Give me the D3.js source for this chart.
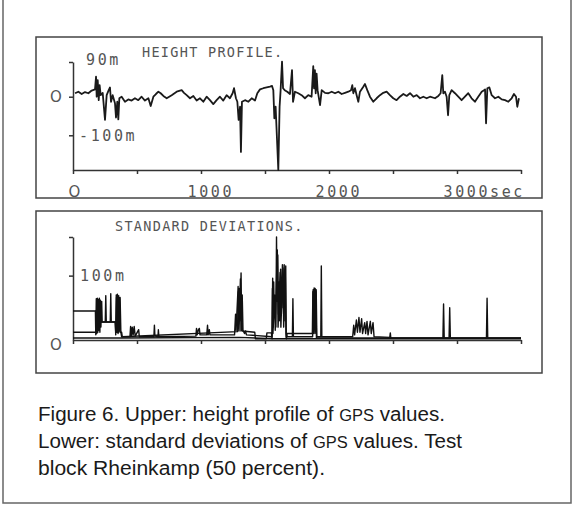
<!DOCTYPE html>
<html>
<head>
<meta charset="utf-8">
<script src="https://cdn.jsdelivr.net/npm/d3@7"></script>
<style>
body { margin: 0; background: #fff; }
svg { display: block; }
.plot text { font-family: "DejaVu Sans Mono", monospace; fill: #555; }
</style>
</head>
<body>
<svg id="fig" width="584" height="505"></svg>
<script>
// [seconds, metres]
const heightProfile = [
  [16,9],[42,13],[68,7],[94,12],[120,9],[146,16],[172,19],[180,52],[185,0],[193,43],[201,-9],[208,30],
  [216,4],[232,10],[250,-60],[263,4],[279,17],[289,24],[297,-13],[310,4],[328,-17],[336,-54],[346,-13],
  [354,-59],[362,-4],[380,0],[406,-13],[432,-7],[458,-10],[484,-4],[510,-9],[536,0],[562,-10],[589,-4],
  [607,-24],[628,0],[648,7],[667,13],[685,9],[706,2],[732,-4],[771,4],[810,13],[849,17],[867,10],[888,4],
  [914,-4],[940,2],[966,-10],[992,-4],[1018,-13],[1044,0],[1070,-9],[1096,-19],[1122,-9],[1148,0],
  [1174,-10],[1200,4],[1226,-4],[1247,9],[1258,22],[1273,-4],[1284,-13],[1294,-60],[1305,-26],[1312,-143],
  [1320,-13],[1344,-9],[1370,-13],[1396,-4],[1422,-10],[1440,9],[1461,19],[1487,22],[1513,24],[1539,26],
  [1555,28],[1565,17],[1573,-56],[1583,-26],[1594,-112],[1604,-190],[1614,-26],[1622,17],[1633,91],
  [1641,22],[1654,17],[1674,13],[1695,7],[1711,69],[1719,-13],[1734,13],[1760,9],[1786,4],[1812,-4],
  [1838,4],[1864,0],[1877,79],[1883,22],[1890,69],[1896,9],[1903,60],[1911,17],[1930,-22],[1943,17],
  [1969,10],[1995,9],[2021,13],[2047,9],[2073,13],[2099,7],[2125,10],[2151,13],[2172,17],[2182,30],
  [2190,9],[2203,22],[2216,4],[2229,-13],[2242,13],[2268,26],[2281,33],[2299,17],[2320,0],[2346,-13],
  [2372,-4],[2398,4],[2424,10],[2450,13],[2476,4],[2502,-4],[2528,-9],[2554,0],[2581,7],[2607,2],
  [2633,9],[2659,0],[2685,4],[2711,-4],[2737,0],[2763,-4],[2789,0],[2828,-4],[2854,2],[2872,9],
  [2885,56],[2893,9],[2906,13],[2919,0],[2930,-48],[2940,4],[2958,17],[2984,9],[3010,0],[3036,-9],
  [3062,0],[3088,9],[3114,-4],[3140,-13],[3166,0],[3193,13],[3211,17],[3219,19],[3227,-69],[3237,22],
  [3253,24],[3271,4],[3297,-4],[3323,0],[3349,-7],[3375,-9],[3401,-13],[3427,-4],[3445,7],[3461,0],
  [3471,-26],[3484,-4]
];

// standard deviations, three traces [seconds, metres]
const sigmaA = [
  [0,45],[175,45],[178,8],[182,64],[186,10],[190,65],[194,12],[198,63],[202,15],[206,65],[210,12],
  [214,62],[218,20],[224,60],[228,28],[252,28],[256,69],[260,28],[291,28],[295,72],[299,28],[330,28],
  [334,8],[338,70],[342,12],[347,71],[352,10],[357,69],[362,14],[368,66],[374,12],[380,5],[445,5],
  [450,21],[456,6],[463,20],[470,8],[478,21],[486,6],[513,16],[518,5],[632,5],[636,23],[640,6],
  [664,5],[667,16],[671,5],[960,6],[965,18],[970,8],[980,16],[987,18],[992,8],[1045,8],[1051,23],
  [1056,8],[1065,16],[1070,8],[1262,8],[1270,40],[1274,15],[1290,83],[1294,25],[1300,80],[1305,30],
  [1313,104],[1317,30],[1322,70],[1328,15],[1340,10],[1348,14],[1355,8],[1555,5],[1560,96],[1564,20],
  [1568,90],[1572,40],[1580,60],[1585,20],[1590,160],[1594,60],[1600,132],[1605,40],[1610,90],
  [1615,30],[1622,110],[1628,40],[1636,117],[1642,50],[1650,117],[1656,30],[1662,115],[1666,10],
  [1672,5],[1714,5],[1718,64],[1722,5],[1872,5],[1876,78],[1880,20],[1884,81],[1888,25],[1892,80],
  [1896,20],[1900,78],[1905,5],[1936,5],[1940,115],[1944,5],[2185,5],[2193,23],[2200,8],[2214,31],
  [2222,12],[2234,35],[2242,12],[2255,33],[2262,10],[2279,27],[2286,10],[2297,29],[2305,8],[2323,29],
  [2330,10],[2344,27],[2352,5],[2475,4],[2479,11],[2483,3],[2890,3],[2895,56],[2900,3],[2938,3],
  [2943,50],[2948,3],[3230,3],[3235,65],[3240,3],[3500,3]
];
const sigmaB = [
  [0,12],[178,12],[182,40],[186,28],[192,60],[196,28],[204,62],[208,28],[216,58],[220,28],[330,28],
  [334,12],[340,66],[344,12],[350,68],[355,12],[364,64],[368,12],[380,12],[385,5],[1285,13],[1292,75],
  [1297,14],[1308,95],[1312,14],[1318,60],[1323,14],[1420,12],[1425,2],[1510,2],[1515,11],[1550,11],
  [1555,2],[1558,80],[1562,10],[1576,70],[1580,15],[1596,140],[1602,20],[1618,105],[1624,20],[1640,112],
  [1646,20],[1658,110],[1664,5],[1668,2],[1672,10],[1870,10],[1874,75],[1878,10],[1886,78],[1890,10],
  [1898,75],[1902,3],[3500,3]
];
const sigmaC = [[0,3],[380,3],[1300,4],[1560,2],[3500,2]];

const timeTicks = [0, 500, 1000, 1500, 2000, 2500, 3000, 3500];
const timeLabels = {0: "O", 1000: "1000", 2000: "2000", 3000: "3000sec"};
const captionLines = [
  ["Figure 6. Upper: height profile of ", "GPS", " values."],
  ["Lower: standard deviations of ", "GPS", " values. Test"],
  ["block Rheinkamp (50 percent)."]
];
const captionWidths = [407, 424, 287];

const svg = d3.select("#fig");

// scanned page frame
svg.append("path")
  .attr("d", "M3,0V503H571V0")
  .attr("fill", "none").attr("stroke", "#666").attr("stroke-width", 1.5);

// panel frames
svg.append("rect").attr("x", 36).attr("y", 37).attr("width", 506).attr("height", 161)
  .attr("fill", "none").attr("stroke", "#444").attr("stroke-width", 1.5);
svg.append("rect").attr("x", 36).attr("y", 211).attr("width", 506).attr("height", 162)
  .attr("fill", "none").attr("stroke", "#444").attr("stroke-width", 1.5);

const x = d3.scaleLinear().domain([0, 3500]).range([73, 521]);
const yH = d3.scaleLinear().domain([-190, 90]).range([170, 62]);
const yS = d3.scaleLinear().domain([0, 160]).range([340, 237]);

function style_axis(g) {
  g.selectAll("path, line").attr("stroke", "#333").attr("stroke-width", 1.5);
  g.attr("font-family", null).attr("font-size", null);
}

// ---- upper panel: height profile
const up = svg.append("g").attr("class", "plot");

up.append("g")
  .attr("transform", "translate(0,170)")
  .call(d3.axisBottom(x).tickValues(timeTicks).tickSize(4).tickSizeOuter(0)
    .tickFormat(d => timeLabels[d] || ""))
  .call(style_axis)
  .call(g => g.selectAll("text")
    .attr("y", 27).attr("dy", null)
    .attr("text-anchor", d => d === 0 ? "middle" : "start")
    .attr("x", d => d === 0 ? 1 : -14)
    .style("font-family", d => d === 0 ? "DejaVu Sans" : null)
    .attr("font-size", 15).attr("letter-spacing", d => d === 0 ? 0 : 2.6));

up.append("g")
  .attr("transform", "translate(73,0)")
  .call(d3.axisLeft(yH).tickValues([90, 0, -100]).tickSize(4).tickSizeOuter(0).tickFormat(""))
  .call(style_axis);

up.append("text").attr("x", 86).attr("y", yH(90) + 3).attr("font-size", 15)
  .attr("letter-spacing", 2.6).text("90m");
up.append("text").attr("x", 79).attr("y", yH(-100) + 6).attr("font-size", 15)
  .attr("letter-spacing", 2.6).text("-100m");
up.append("text").attr("x", 56).attr("y", yH(0) + 5).attr("text-anchor", "middle")
  .attr("font-size", 15).style("font-family", "DejaVu Sans").text("O");
up.append("text").attr("x", 142).attr("y", 57).attr("font-size", 13.5)
  .attr("letter-spacing", 1.3).text("HEIGHT PROFILE.");

up.append("path")
  .datum(heightProfile)
  .attr("fill", "none").attr("stroke", "#1a1a1a").attr("stroke-width", 1.8)
  .attr("stroke-linejoin", "round")
  .attr("d", d3.line().x(d => x(d[0])).y(d => yH(d[1])));

// ---- lower panel: standard deviations
const lo = svg.append("g").attr("class", "plot");

lo.append("g")
  .attr("transform", "translate(0,340)")
  .call(d3.axisBottom(x).tickValues(timeTicks).tickSize(4).tickSizeOuter(0).tickFormat(""))
  .call(style_axis);

lo.append("g")
  .attr("transform", "translate(73,0)")
  .call(d3.axisLeft(yS).tickValues([160, 100]).tickSize(4).tickSizeOuter(0).tickFormat(""))
  .call(style_axis);

lo.append("text").attr("x", 80).attr("y", yS(100) + 5).attr("font-size", 15)
  .attr("letter-spacing", 2.6).text("100m");
lo.append("text").attr("x", 56).attr("y", 350).attr("text-anchor", "middle")
  .attr("font-size", 15).style("font-family", "DejaVu Sans").text("O");
lo.append("text").attr("x", 115).attr("y", 231).attr("font-size", 13.5)
  .attr("letter-spacing", 1.3).text("STANDARD DEVIATIONS.");

const sigmaLine = d3.line().x(d => x(d[0])).y(d => yS(d[1]));
[sigmaC, sigmaB, sigmaA].forEach(s => {
  lo.append("path")
    .datum(s)
    .attr("fill", "none").attr("stroke", "#111").attr("stroke-width", 1.4)
    .attr("stroke-linejoin", "round")
    .attr("d", sigmaLine);
});

// ---- caption
const cap = svg.append("g")
  .style("font-family", '"Liberation Sans", Arial, sans-serif')
  .attr("fill", "#1a1a1a").attr("font-size", 20);

captionLines.forEach((parts, i) => {
  const t = cap.append("text").attr("x", 38).attr("y", 421 + i * 27)
    .attr("textLength", captionWidths[i]).attr("lengthAdjust", "spacingAndGlyphs");
  parts.forEach(p => {
    t.append("tspan").attr("font-size", p === "GPS" ? 16 : null).text(p);
  });
});
</script>
</body>
</html>
